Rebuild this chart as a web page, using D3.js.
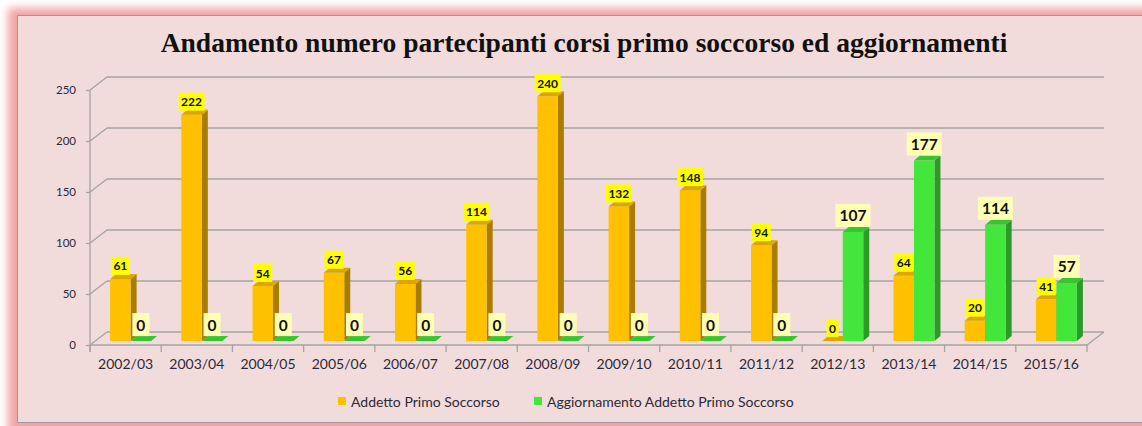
<!DOCTYPE html>
<html>
<head>
<meta charset="utf-8">
<script src="https://cdn.jsdelivr.net/npm/d3@7"></script>
<style>
  body { margin: 0; background: #fff; }
  svg { display: block; }
</style>
</head>
<body>
<div id="chart"></div>
<script>
// data
const categories = ['2002/03','2003/04','2004/05','2005/06','2006/07','2007/08','2008/09',
  '2009/10','2010/11','2011/12','2012/13','2013/14','2014/15','2015/16'];
const addetto = [61, 222, 54, 67, 56, 114, 240, 132, 148, 94, 0, 64, 20, 41];
const aggiornamento = [0, 0, 0, 0, 0, 0, 0, 0, 0, 0, 107, 177, 114, 57];
const yTicks = [0, 50, 100, 150, 200, 250];
const seriesNames = ['Addetto Primo Soccorso', 'Aggiornamento Addetto Primo Soccorso'];

const W = 1142, H = 426;
const depthX = 17, depthY = 13;      // floor depth in px
const floorFront = 345;
const left = 90, right = 1087;

const svg = d3.select('#chart').append('svg')
  .attr('width', W).attr('height', H);

// frame with pink glow
const defs = svg.append('defs');
defs.append('filter').attr('id', 'glow')
  .attr('x', '-5%').attr('y', '-5%').attr('width', '110%').attr('height', '110%')
  .append('feGaussianBlur').attr('stdDeviation', 4);
svg.append('rect')
  .attr('x', 8).attr('y', 8).attr('width', W + 20).attr('height', H + 20)
  .attr('fill', '#f3a3a3').attr('filter', 'url(#glow)');
svg.append('rect')
  .attr('x', 17.5).attr('y', 15.5).attr('width', W + 20).attr('height', 407)
  .attr('fill', '#f2dcdb').attr('stroke', '#9a9a9a').attr('stroke-width', 1);

// title
svg.append('text')
  .attr('x', 584).attr('y', 52)
  .attr('text-anchor', 'middle')
  .style('font-family', '"Liberation Serif", "Times New Roman", serif')
  .style('font-weight', 'bold').style('font-size', '27.5px')
  .attr('fill', '#111')
  .text('Andamento numero partecipanti corsi primo soccorso ed aggiornamenti');

// scales
const x = d3.scaleBand().domain(categories).range([left, right]).padding(0);
const yBack = d3.scaleLinear().domain([0, 250]).range([floorFront - depthY, floorFront - depthY - 255]);
const yFront = d3.scaleLinear().domain([0, 250]).range([floorFront, floorFront - 255]);
const barDepth = 0.3;   // bars stand 30% into the floor
const yBar = v => yFront(v) - depthY * barDepth;
const barShift = depthX * barDepth;

const gridColor = '#a3a3a3';
const labelFont = 'Lato, "Open Sans", sans-serif';

// back-wall gridlines + diagonals
const grid = svg.append('g');
yTicks.forEach(t => {
  grid.append('line')
    .attr('x1', left + depthX).attr('x2', right + depthX)
    .attr('y1', yBack(t)).attr('y2', yBack(t))
    .attr('stroke', gridColor).attr('stroke-width', 1.3);
  grid.append('line')
    .attr('x1', left).attr('x2', left + depthX)
    .attr('y1', yFront(t)).attr('y2', yBack(t))
    .attr('stroke', gridColor).attr('stroke-width', 1.3);
});
// floor front edge and right diagonal
grid.append('line')
  .attr('x1', left).attr('x2', right).attr('y1', floorFront).attr('y2', floorFront)
  .attr('stroke', gridColor).attr('stroke-width', 1.3);
grid.append('line')
  .attr('x1', right).attr('x2', right + depthX).attr('y1', floorFront).attr('y2', floorFront - depthY)
  .attr('stroke', gridColor).attr('stroke-width', 1.3);

// y axis
const yAxis = svg.append('g')
  .attr('transform', `translate(${left},0)`)
  .call(d3.axisLeft(yFront).tickValues(yTicks).tickSize(4).tickPadding(10).tickSizeOuter(0));
yAxis.select('.domain').attr('stroke', gridColor).attr('stroke-width', 1.3)
  .attr('d', `M0,${yFront(250)}V${floorFront + 7}`);
yAxis.selectAll('.tick line').attr('stroke', gridColor).attr('stroke-width', 1.3);
yAxis.selectAll('.tick text')
  .style('font-family', labelFont).style('font-size', '11.5px').attr('fill', '#2a2a3a');

// x axis (labels centred, ticks on the band borders)
const xAxis = svg.append('g')
  .attr('transform', `translate(0,${floorFront})`)
  .call(d3.axisBottom(x).tickSize(0).tickPadding(14));
xAxis.select('.domain').remove();
xAxis.selectAll('.tick text')
  .style('font-family', labelFont).style('font-size', '14px').attr('fill', '#2a2a3a');
categories.concat([null]).forEach((c, i) => {
  const xx = c ? x(c) : right;
  svg.append('line')
    .attr('x1', xx).attr('x2', xx).attr('y1', floorFront).attr('y2', floorFront + 7)
    .attr('stroke', gridColor).attr('stroke-width', 1.3);
});

// 3d bars
const bw = 20.5, sideX = 6, sideY = 5;
const series = [
  { values: addetto, front: '#ffc000', top: '#dda500', side: '#a97d00', label: '#ffff00', fs: 12, offset: 0 },
  { values: aggiornamento, front: '#43e63b', top: '#39c532', side: '#2b9a27', label: '#ffffb3', fs: 15.5, offset: bw }
];

const bars = svg.append('g');
categories.forEach((c, i) => {
  series.forEach(s => {
    const v = s.values[i];
    const x0 = x(c) + 15 + barShift + s.offset;
    const x1 = x0 + bw;
    const yt = yBar(v), yb = yBar(0);
    const g = bars.append('g');
    g.append('path')
      .attr('d', `M${x1},${yb}L${x1 + sideX},${yb - sideY}L${x1 + sideX},${yt - sideY}L${x1},${yt}Z`)
      .attr('fill', s.side);
    g.append('rect')
      .attr('x', x0).attr('y', yt).attr('width', bw).attr('height', yb - yt)
      .attr('fill', s.front);
    g.append('path')
      .attr('d', `M${x0},${yt}L${x1},${yt}L${x1 + sideX},${yt - sideY}L${x0 + sideX},${yt - sideY}Z`)
      .attr('fill', s.top);
  });
});

// data labels
const labels = svg.append('g');
categories.forEach((c, i) => {
  series.forEach(s => {
    const v = s.values[i];
    const cx = x(c) + 15 + barShift + s.offset + bw / 2;
    const t = labels.append('text')
      .attr('x', cx)
      .attr('text-anchor', 'middle')
      .style('font-family', labelFont).style('font-weight', 'bold')
      .style('font-size', s.fs + 'px').attr('fill', '#111')
      .text(v);
    const bb = t.node().getBBox();
    const padX = s.fs > 13 ? 4 : 2.5, padY = s.fs > 13 ? 2.5 : 1.5;
    const boxH = bb.height + padY * 2;
    const boxBottom = yBar(v) - (s.fs > 13 ? 5 : 4);
    labels.insert('rect', () => t.node())
      .attr('x', cx - bb.width / 2 - padX)
      .attr('y', boxBottom - boxH)
      .attr('width', bb.width + padX * 2)
      .attr('height', boxH)
      .attr('fill', s.label);
    t.attr('y', boxBottom - boxH / 2).attr('dominant-baseline', 'central');
  });
});

// legend
const legend = svg.append('g');
const legendX = [338, 534];
seriesNames.forEach((name, i) => {
  legend.append('rect')
    .attr('x', legendX[i]).attr('y', 397).attr('width', 8).attr('height', 8)
    .attr('fill', series[i].front);
  legend.append('text')
    .attr('x', legendX[i] + 13).attr('y', 401)
    .attr('dominant-baseline', 'central')
    .style('font-family', labelFont).style('font-size', '14px').attr('fill', '#2a2a3a')
    .text(name);
});
</script>
</body>
</html>
